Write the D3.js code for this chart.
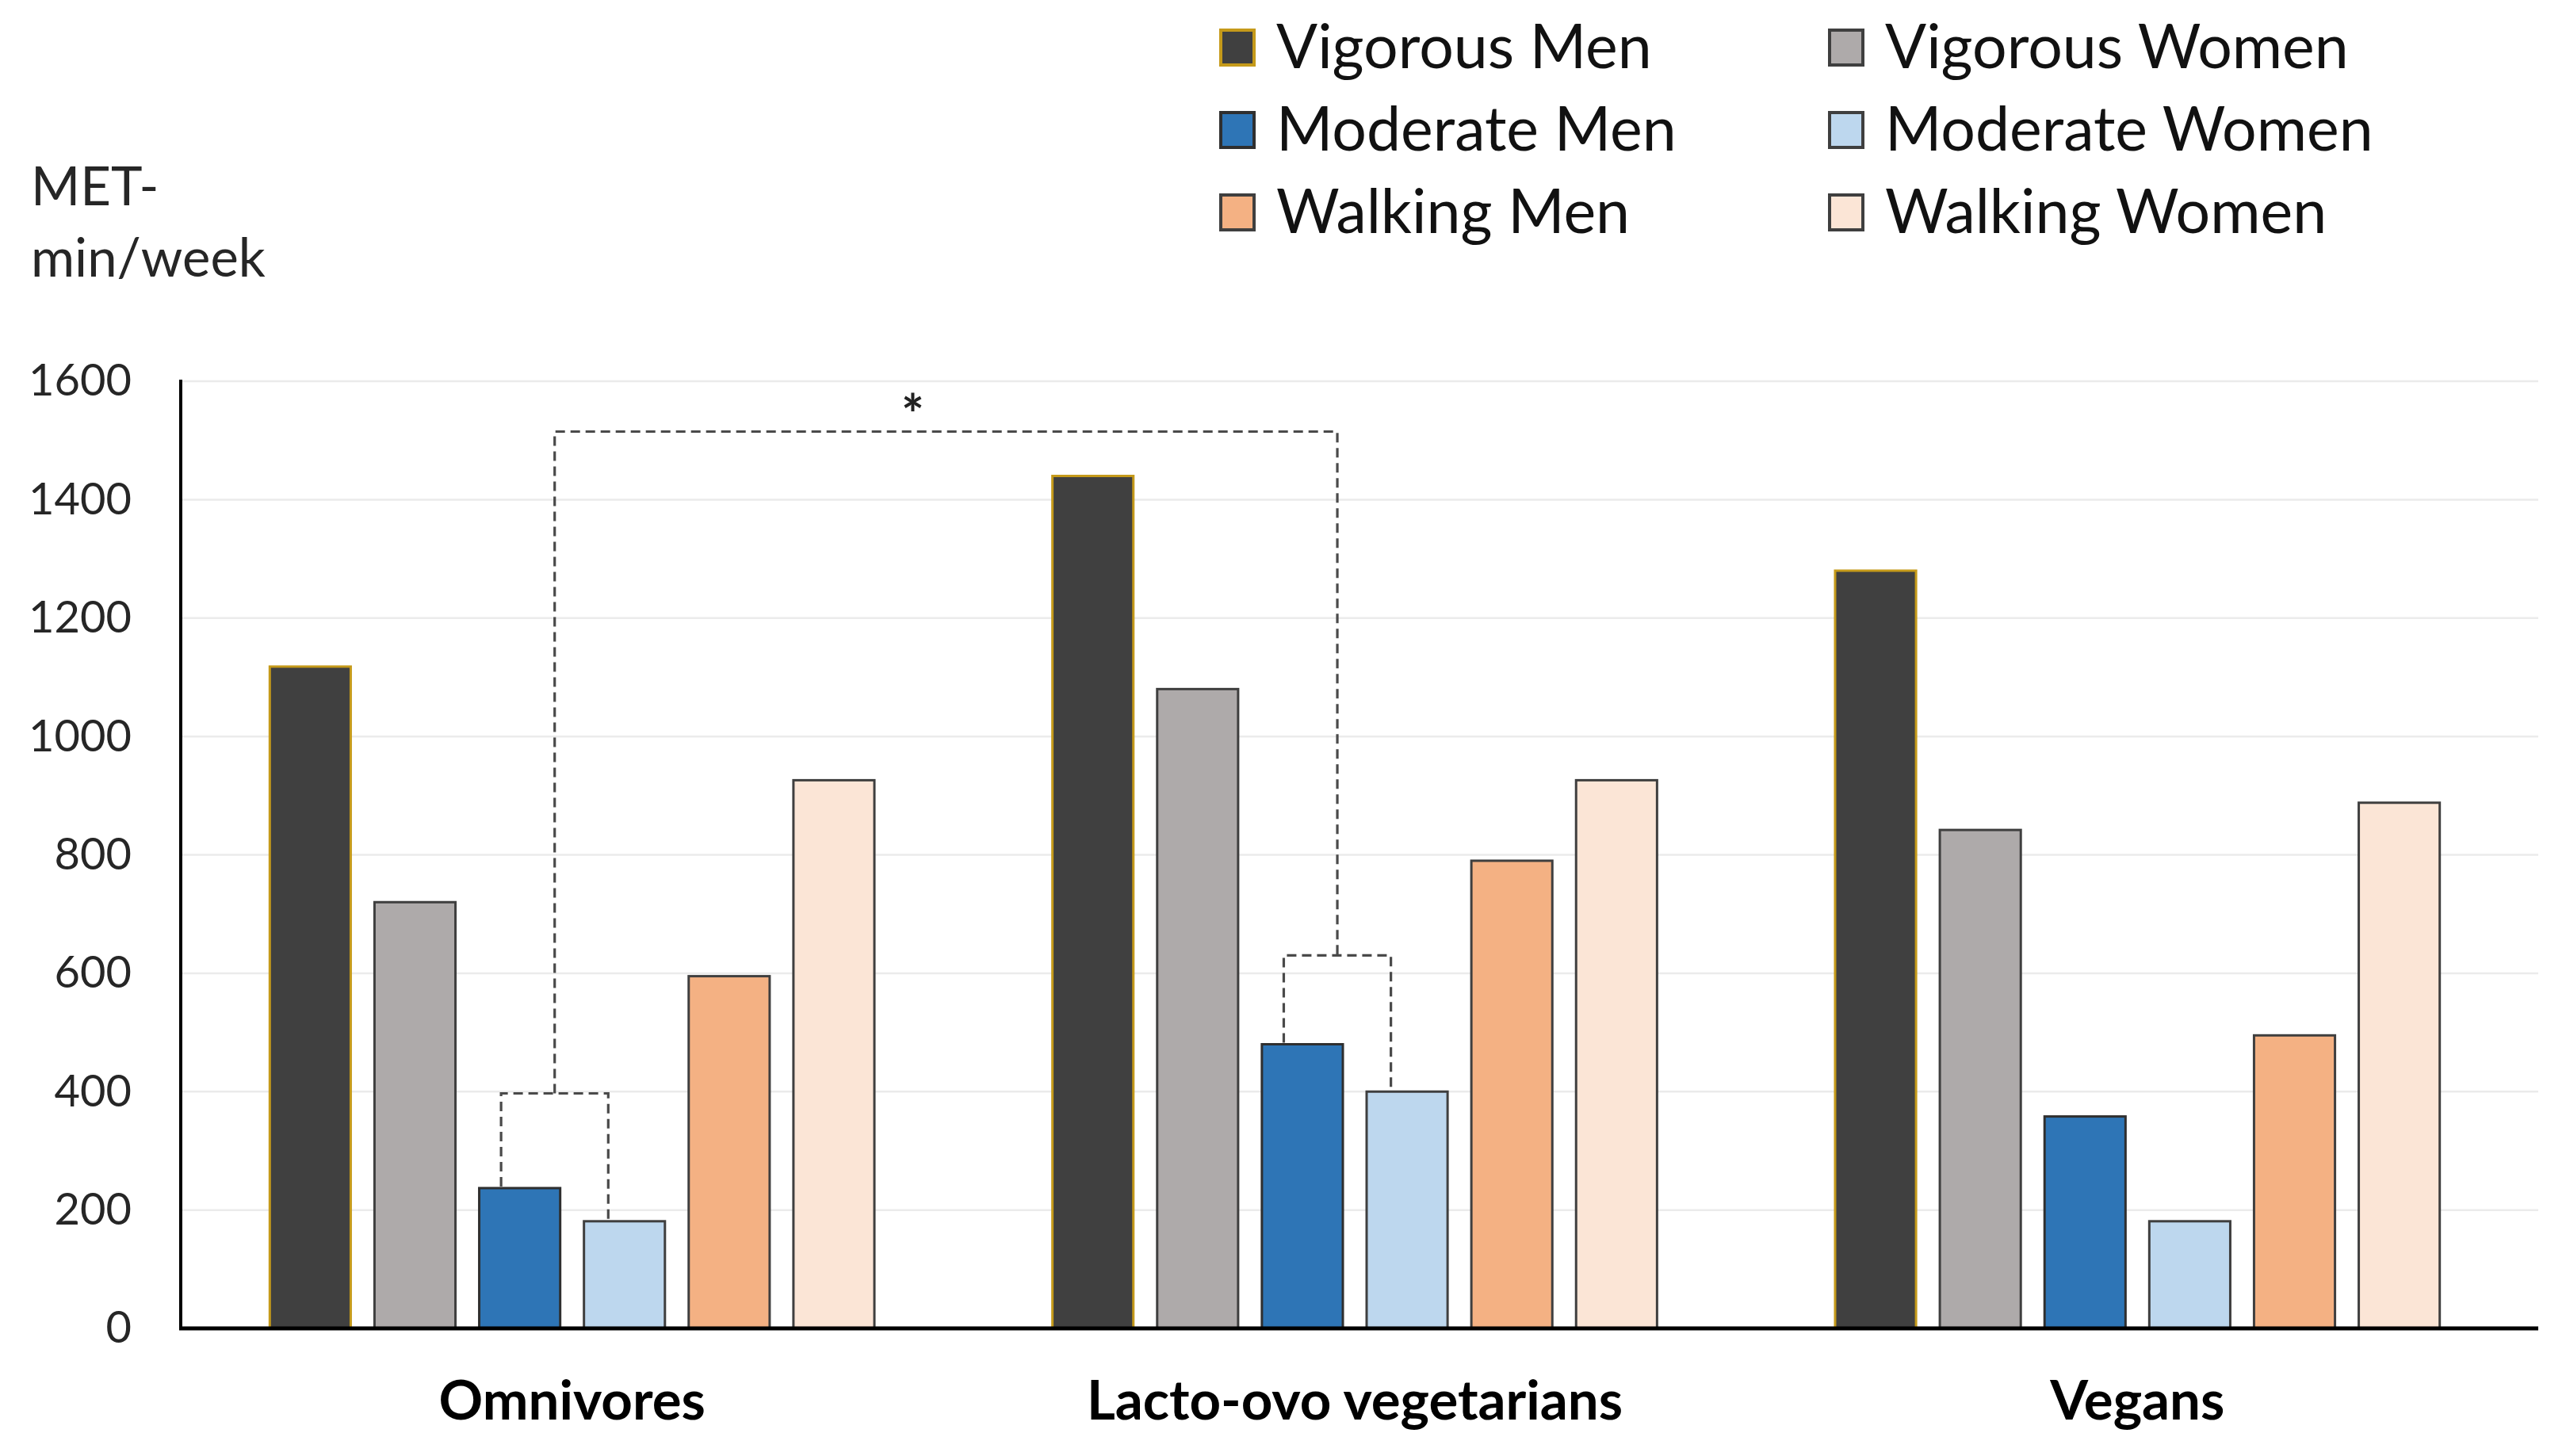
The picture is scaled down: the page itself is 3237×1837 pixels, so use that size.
<!DOCTYPE html>
<html>
<head>
<meta charset="utf-8">
<script src="https://cdn.jsdelivr.net/npm/d3@7"></script>
<style>
  html, body { margin: 0; padding: 0; background: #ffffff; }
  svg { display: block; }
  text { font-family: Lato, "Open Sans", sans-serif; }
</style>
</head>
<body>
<svg id="chart" width="3237" height="1837"></svg>
<script>
// ---- data ----
const categories = ["Omnivores", "Lacto-ovo vegetarians", "Vegans"];
const seriesNames = ["Vigorous Men", "Vigorous Women", "Moderate Men", "Moderate Women", "Walking Men", "Walking Women"];
const vigorousMen   = [1118, 1440, 1280];
const vigorousWomen = [720, 1080, 842];
const moderateMen   = [237, 480, 358];
const moderateWomen = [181, 400, 181];
const walkingMen    = [595, 790, 495];
const walkingWomen  = [926, 926, 888];
const yTicks = [0, 200, 400, 600, 800, 1000, 1200, 1400, 1600];
const yLabelLines = ["MET-", "min/week"];
// significance brackets: [category index, level]
const smallBrackets = [[0, 397], [1, 630]];
const bigBracketLevel = 1515;
const sigMark = "*";

const seriesValues = [vigorousMen, vigorousWomen, moderateMen, moderateWomen, walkingMen, walkingWomen];
const fills   = ["#404040", "#aeaaaa", "#2e75b6", "#bdd7ee", "#f4b183", "#fbe5d6"];
const strokes = ["#c59a1a", "#3f3f3f", "#2f2f2f", "#3f3f3f", "#3f3f3f", "#3f3f3f"];

// ---- layout ----
const svg = d3.select("#chart");
const mLeft = 228, mRight = 3190, mTop = 481, mBottom = 1676;

const x0 = d3.scaleBand().domain(categories).range([mLeft, mRight]).padding(0);
const x1 = d3.scaleBand().domain(seriesNames).range([0, x0.bandwidth()])
  .paddingInner(0.227).paddingOuter(0.85);
const y = d3.scaleLinear().domain([0, 1600]).range([mBottom, mTop]);

svg.append("rect").attr("width", 3237).attr("height", 1837).attr("fill", "#fff");

// gridlines
svg.append("g").selectAll("line").data(yTicks.filter(d => d > 0)).join("line")
  .attr("x1", mLeft).attr("x2", 3202)
  .attr("y1", d => y(d)).attr("y2", d => y(d))
  .attr("stroke", "#ebebeb").attr("stroke-width", 2.5);

// y axis labels
const yAxis = d3.axisLeft(y).tickValues(yTicks).tickFormat(d3.format("d")).tickSize(0).tickPadding(62);
const gy = svg.append("g").attr("transform", `translate(${mLeft},0)`).call(yAxis);
gy.select(".domain").remove();
gy.selectAll("text").attr("font-size", 56).attr("fill", "#262626")
  .attr("font-family", "Lato, sans-serif");

// bars
const bars = [];
categories.forEach((c, ci) => {
  seriesNames.forEach((s, si) => {
    bars.push({ c, s, si, v: seriesValues[si][ci] });
  });
});
svg.append("g").selectAll("rect").data(bars).join("rect")
  .attr("x", d => x0(d.c) + x1(d.s))
  .attr("y", d => y(d.v))
  .attr("width", x1.bandwidth())
  .attr("height", d => y(0) - y(d.v))
  .attr("fill", d => fills[d.si])
  .attr("stroke", d => strokes[d.si])
  .attr("stroke-width", 3);

// axes lines
svg.append("line").attr("x1", mLeft).attr("x2", mLeft).attr("y1", mTop - 2).attr("y2", mBottom)
  .attr("stroke", "#000").attr("stroke-width", 4);
svg.append("line").attr("x1", mLeft - 2).attr("x2", 3202).attr("y1", mBottom).attr("y2", mBottom)
  .attr("stroke", "#000").attr("stroke-width", 5);

// category labels
const xAxis = d3.axisBottom(x0).tickSize(0).tickPadding(66);
const gx = svg.append("g").attr("transform", `translate(0,${mBottom})`).call(xAxis);
gx.select(".domain").remove();
gx.selectAll("text").attr("font-size", 69).attr("font-weight", "bold").attr("fill", "#000")
  .attr("font-family", "Lato, sans-serif");

// y axis title
svg.append("g").selectAll("text").data(yLabelLines).join("text")
  .attr("x", 39).attr("y", (d, i) => 259 + i * 90)
  .attr("font-size", 67).attr("fill", "#262626").text(d => d);

// significance brackets
const dashStyle = { stroke: "#4a4a4a", "stroke-width": 3.2, "stroke-dasharray": "12,7", fill: "none" };
const gb = svg.append("g");
const bracketMid = [];
smallBrackets.forEach(([ci, lvl]) => {
  const c = categories[ci];
  const xa = x0(c) + x1("Moderate Men") + x1.bandwidth() * 0.27;
  const xb = x0(c) + x1("Moderate Women") + x1.bandwidth() * 0.3;
  const ya = y(moderateMen[ci]), yb = y(moderateWomen[ci]), yl = y(lvl);
  const p = gb.append("path").attr("d", `M${xa},${ya - 2}V${yl}H${xb}V${yb - 2}`);
  Object.entries(dashStyle).forEach(([k, v]) => p.attr(k, v));
  bracketMid.push({ x: (xa + xb) / 2, y: yl });
});
const yBig = y(bigBracketLevel);
const pb = gb.append("path")
  .attr("d", `M${bracketMid[0].x},${bracketMid[0].y}V${yBig}H${bracketMid[1].x}V${bracketMid[1].y}`);
Object.entries(dashStyle).forEach(([k, v]) => pb.attr(k, v));
svg.append("text")
  .attr("x", (bracketMid[0].x + bracketMid[1].x) / 2 - 42)
  .attr("y", yBig + 4)
  .attr("text-anchor", "middle").attr("font-size", 68).attr("font-weight", "bold")
  .attr("fill", "#222").text(sigMark);

// legend
const legendCols = [1540, 2308];
const legendRows = [60, 164, 268];
const lg = svg.append("g");
seriesNames.forEach((s, si) => {
  const col = si % 2, row = Math.floor(si / 2);
  const gx0 = legendCols[col], gy0 = legendRows[row];
  lg.append("rect").attr("x", gx0).attr("y", gy0 - 22).attr("width", 42).attr("height", 44)
    .attr("fill", fills[si]).attr("stroke", strokes[si]).attr("stroke-width", 4);
  lg.append("text").attr("x", gx0 + 70).attr("y", gy0 + 26)
    .attr("font-size", 77).attr("fill", "#111").text(s);
});
</script>
</body>
</html>
